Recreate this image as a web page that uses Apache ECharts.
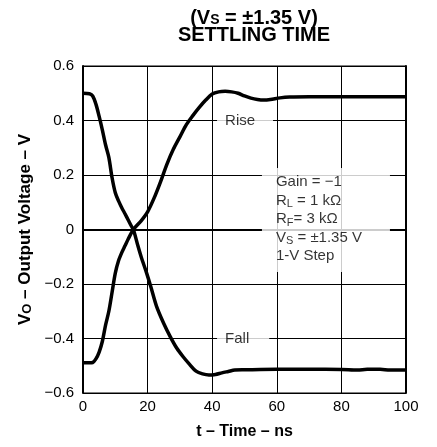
<!DOCTYPE html>
<html>
<head>
<meta charset="utf-8">
<script src="https://cdn.jsdelivr.net/npm/echarts@6/dist/echarts.min.js"></script>
<style>
  html, body { margin: 0; padding: 0; background: #fff; }
  #ch1 { width: 437px; height: 447px; }
</style>
</head>
<body>
<div id="ch1"></div>
<script>
const FONT = 'Liberation Sans, Arial, sans-serif';

// values (t in ns, V in volts)
const riseTime = [0, 2, 3, 4, 5, 6, 7, 8, 9, 10, 11, 12, 13, 14, 15.6, 18, 20, 22, 24, 26, 28, 30, 32, 34, 36, 38, 40, 42, 44, 46, 48, 50, 52, 54, 56, 58, 61, 64, 70, 80, 90, 100];
const riseVolt = [-0.489, -0.489, -0.488, -0.475, -0.45, -0.41, -0.35, -0.3, -0.23, -0.16, -0.115, -0.085, -0.06, -0.035, 0, 0.032, 0.065, 0.115, 0.175, 0.24, 0.295, 0.34, 0.385, 0.418, 0.448, 0.475, 0.497, 0.505, 0.507, 0.505, 0.5, 0.49, 0.482, 0.477, 0.475, 0.477, 0.483, 0.486, 0.487, 0.487, 0.487, 0.487];

const fallTime = [0, 2, 3, 4, 5, 6, 7, 8, 9, 10, 11, 12, 13, 14, 15, 15.6, 17, 18, 19.7, 21, 22.8, 25, 27, 29, 31, 33, 35, 37, 39, 41, 43, 45, 47, 50, 60, 70, 80, 85, 88, 92, 95, 100];
const fallVolt = [0.5, 0.498, 0.49, 0.46, 0.415, 0.365, 0.31, 0.265, 0.19, 0.135, 0.105, 0.08, 0.058, 0.035, 0.012, 0, -0.06, -0.1, -0.16, -0.21, -0.283, -0.345, -0.393, -0.435, -0.467, -0.495, -0.52, -0.53, -0.534, -0.532, -0.526, -0.521, -0.516, -0.515, -0.513, -0.513, -0.514, -0.516, -0.513, -0.513, -0.516, -0.516];

const xTicks = [0, 20, 40, 60, 80, 100];
const yTicks = [-0.6, -0.4, -0.2, 0, 0.2, 0.4, 0.6];

const zip = (xs, ys) => xs.map((x, i) => [x, ys[i]]);

const chart = echarts.init(document.getElementById('ch1'));

const fmtY = (v) => (Math.abs(v) < 1e-9 ? '0' : v.toFixed(1).replace('-', '\u2212'));

const noteLabel = (text, padRight) => ({
  show: true,
  position: 'right',
  distance: 0,
  formatter: text,
  fontFamily: FONT,
  fontSize: 15,
  color: '#000',
  backgroundColor: '#fff',
  padding: [2, padRight, 2, 8],
});

const option = {
  animation: false,
  textStyle: { fontFamily: FONT, color: '#000' },
  title: {
    left: 254,
    top: 10,
    padding: 0,
    textAlign: 'center',
    textVerticalAlign: 'top',
    text: '{a|(V}{b|S}{a| = \u00b11.35 V)}\n{a|SETTLING TIME}',
    textStyle: {
      rich: {
        a: { fontFamily: FONT, fontSize: 20, fontWeight: 'bold', lineHeight: 17, color: '#000' },
        b: { fontFamily: FONT, fontSize: 14, fontWeight: 'bold', lineHeight: 12, verticalAlign: 'bottom', color: '#000' },
      },
    },
  },
  grid: {
    left: 83,
    right: 31,
    top: 66,
    bottom: 54,
    show: true,
    borderColor: '#000',
    borderWidth: 1,
  },
  xAxis: {
    type: 'value',
    min: xTicks[0],
    max: xTicks[xTicks.length - 1],
    interval: 20,
    name: 't \u2013 Time \u2013 ns',
    nameLocation: 'middle',
    nameGap: 31,
    nameTextStyle: { fontFamily: FONT, fontSize: 16, fontWeight: 'bold', color: '#000' },
    axisLine: { show: true, lineStyle: { color: '#000', width: 2 } },
    axisTick: { show: false },
    axisLabel: { fontFamily: FONT, fontSize: 15, color: '#000', margin: 6 },
    splitLine: { show: true, lineStyle: { color: '#000', width: 1 } },
  },
  yAxis: [
    {
      type: 'value',
      min: yTicks[0],
      max: yTicks[yTicks.length - 1],
      interval: 0.2,
      name: '{a|V}{b|O}{a| \u2013 Output Voltage \u2013 V}',
      nameLocation: 'middle',
      nameGap: 47,
      nameTextStyle: {
        rich: {
          a: { fontFamily: FONT, fontSize: 17, fontWeight: 'bold', color: '#000' },
          b: { fontFamily: FONT, fontSize: 13, fontWeight: 'bold', lineHeight: 12, verticalAlign: 'bottom', color: '#000' },
        },
      },
      axisLine: { show: true, onZero: false, lineStyle: { color: '#000', width: 2 } },
      axisTick: { show: false },
      axisLabel: { fontFamily: FONT, fontSize: 15, color: '#000', margin: 9, formatter: fmtY },
      splitLine: { show: true, lineStyle: { color: '#000', width: 1 } },
    },
    {
      type: 'value',
      position: 'right',
      min: yTicks[0],
      max: yTicks[yTicks.length - 1],
      interval: 0.2,
      axisLine: { show: true, onZero: false, lineStyle: { color: '#000', width: 2 } },
      axisTick: { show: false },
      axisLabel: { show: false },
      splitLine: { show: false },
    },
  ],
  series: [
    {
      name: 'notes',
      type: 'scatter',
      silent: true,
      symbolSize: 0,
      z: 3,
      data: [
        { value: [41.5, 0.4], label: noteLabel('Rise', 18) },
        { value: [41.5, -0.4], label: noteLabel('Fall', 20) },
        {
          value: [55.4, 0.2257],
          label: {
            show: true,
            position: [0, 0],
            align: 'left',
            verticalAlign: 'top',
            backgroundColor: '#fff',
            width: 114,
            padding: [5, 0, 7, 14],
            formatter: [
              '{t|Gain = \u22121}',
              '{t|R}{s|L}{t| = 1 k\u03a9}',
              '{t|R}{s|F}{t|= 3 k\u03a9}',
              '{t|V}{s|S}{t| = \u00b11.35 V}',
              '{t|1-V Step}',
            ].join('\n'),
            rich: {
              t: { fontFamily: FONT, fontSize: 15, lineHeight: 18.4, color: '#000' },
              s: { fontFamily: FONT, fontSize: 11, lineHeight: 12, verticalAlign: 'bottom', color: '#000' },
            },
          },
        },
      ],
    },
    {
      name: 'Rise',
      type: 'line',
      data: zip(riseTime, riseVolt),
      showSymbol: false,
      smooth: 0.3,
      z: 4,
      lineStyle: { color: '#000', width: 3.5 },
    },
    {
      name: 'Fall',
      type: 'line',
      data: zip(fallTime, fallVolt),
      showSymbol: false,
      smooth: 0.3,
      z: 4,
      lineStyle: { color: '#000', width: 3.5 },
    },
  ],
};

chart.setOption(option);
window.addEventListener('resize', () => chart.resize());
</script>
</body>
</html>
